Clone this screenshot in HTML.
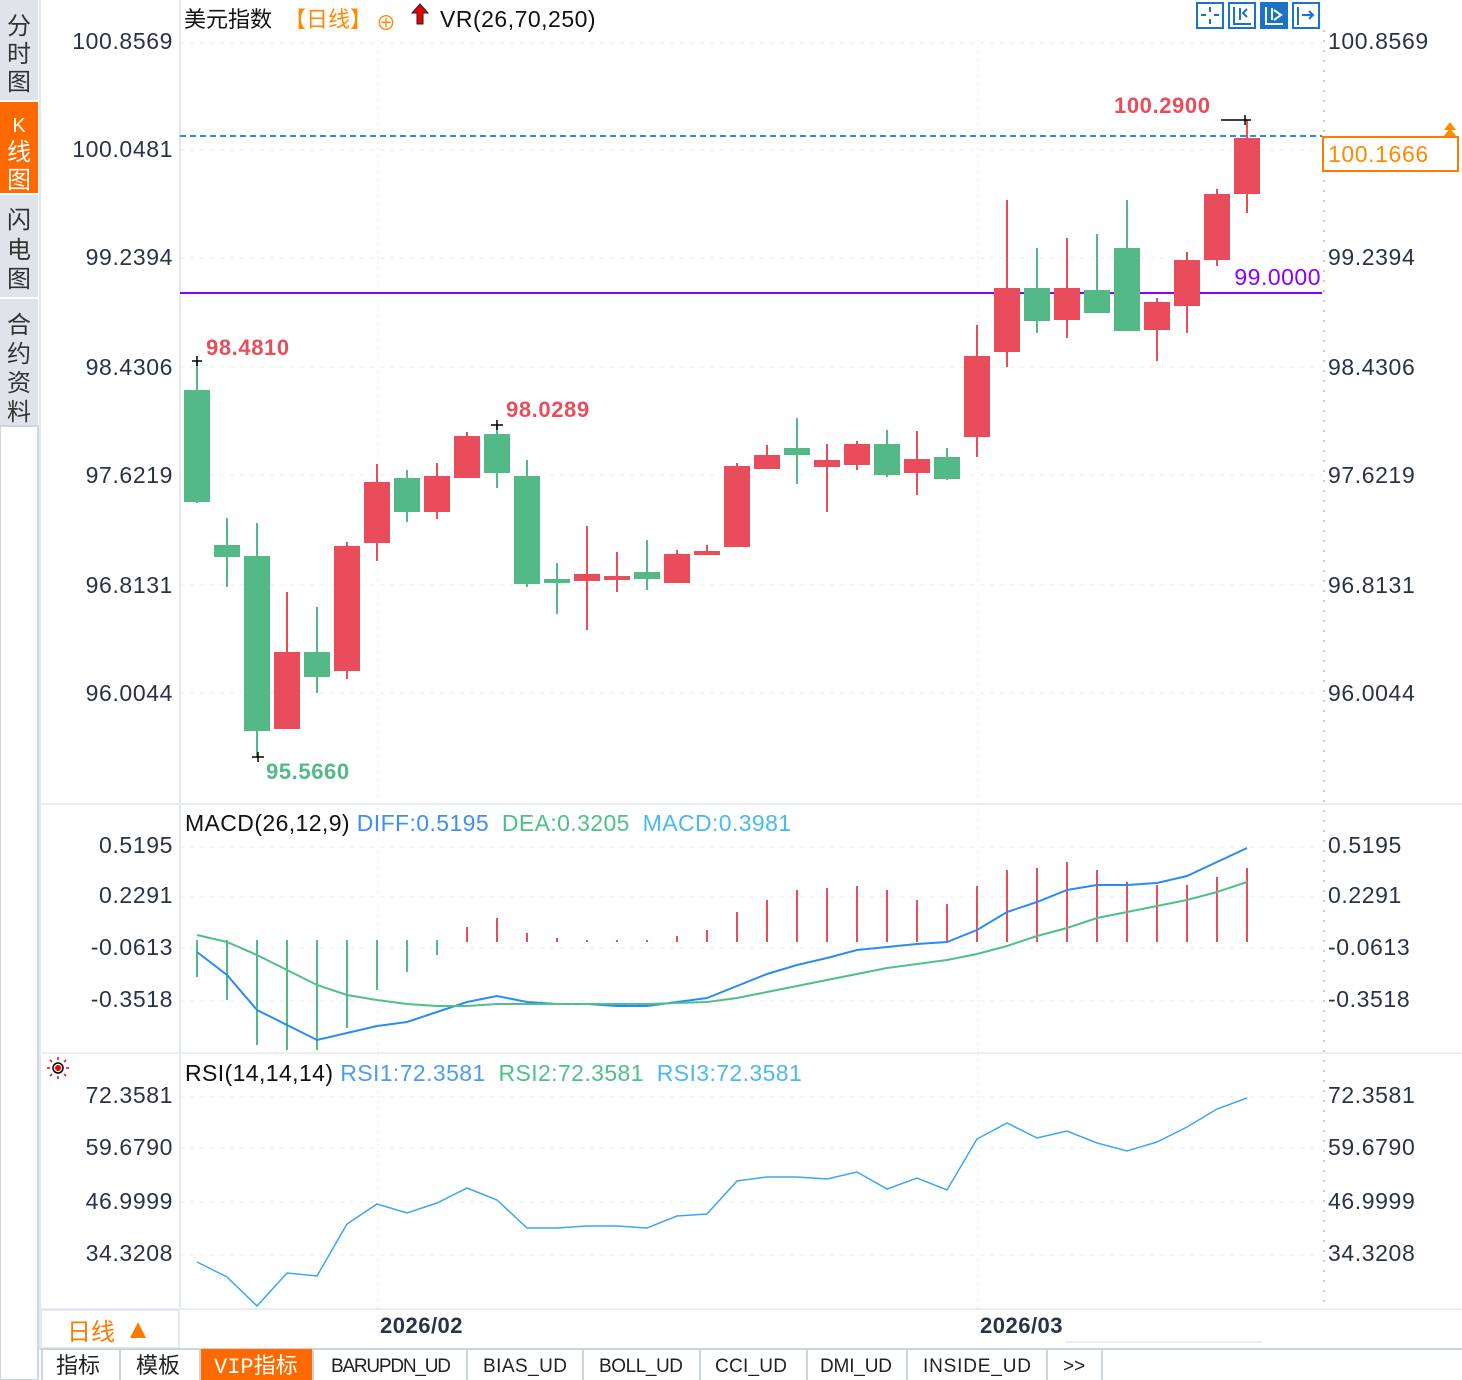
<!DOCTYPE html>
<html><head><meta charset="utf-8"><style>
html,body{margin:0;padding:0;background:#fff;width:1462px;height:1380px;overflow:hidden}
svg{display:block}
text{font-family:"Liberation Sans","Noto Sans CJK SC",sans-serif}
.mono{font-family:"Liberation Mono","Noto Sans CJK SC",monospace}
</style></head><body>
<svg width="1462" height="1380" xmlns="http://www.w3.org/2000/svg">
<rect x="0" y="0" width="38" height="1380" fill="#fff"/>
<rect x="0" y="0" width="38" height="100" fill="#e1e3ea"/>
<rect x="0" y="102" width="38" height="91" fill="#ff6a00"/>
<rect x="0" y="195" width="38" height="102" fill="#e1e3ea"/>
<rect x="0" y="299" width="38" height="127" fill="#e1e3ea"/>
<rect x="0" y="426" width="38" height="954" fill="#fff" stroke="#d0d6df" stroke-width="2"/>
<g font-size="24" fill="#333" text-anchor="middle">
<text x="19" y="34">分</text><text x="19" y="62">时</text><text x="19" y="90">图</text>
<text x="19" y="132" fill="#fff" font-size="20">K</text><text x="19" y="160" fill="#fff">线</text><text x="19" y="188" fill="#fff">图</text>
<text x="19" y="228">闪</text><text x="19" y="258">电</text><text x="19" y="287">图</text>
<text x="19" y="333">合</text><text x="19" y="362">约</text><text x="19" y="391">资</text><text x="19" y="420">料</text>
</g>
<line x1="40" y1="0" x2="40" y2="1350" stroke="#e3e8ee" stroke-width="2"/>
<line x1="180" y1="0" x2="180" y2="1310" stroke="#e3e8ee" stroke-width="2"/>
<line x1="1324" y1="30" x2="1324" y2="1308" stroke="#ccc" stroke-width="2" stroke-dasharray="2,8"/>
<line x1="40" y1="804" x2="1462" y2="804" stroke="#e8edf2" stroke-width="2"/>
<line x1="40" y1="1053" x2="1462" y2="1053" stroke="#e8edf2" stroke-width="2"/>
<line x1="40" y1="1309" x2="1462" y2="1309" stroke="#e8edf2" stroke-width="2"/>
<line x1="378" y1="40" x2="378" y2="1310" stroke="#eaeef2" stroke-dasharray="2,4"/>
<line x1="978" y1="40" x2="978" y2="1310" stroke="#eaeef2" stroke-dasharray="2,4"/>
<g stroke="#eaeef2" stroke-dasharray="4,6">
<line x1="180" y1="43" x2="1322" y2="43"/><line x1="180" y1="150" x2="1322" y2="150"/>
<line x1="180" y1="258" x2="1322" y2="258"/><line x1="180" y1="367" x2="1322" y2="367"/>
<line x1="180" y1="475" x2="1322" y2="475"/><line x1="180" y1="585" x2="1322" y2="585"/>
<line x1="180" y1="693" x2="1322" y2="693"/>
<line x1="180" y1="847" x2="1322" y2="847"/><line x1="180" y1="897" x2="1322" y2="897"/>
<line x1="180" y1="948" x2="1322" y2="948"/><line x1="180" y1="1001" x2="1322" y2="1001"/>
<line x1="180" y1="1097" x2="1322" y2="1097"/><line x1="180" y1="1148" x2="1322" y2="1148"/>
<line x1="180" y1="1202" x2="1322" y2="1202"/><line x1="180" y1="1255" x2="1322" y2="1255"/>
</g>
<g font-size="23" fill="#2a3346" letter-spacing="0.6">
<g text-anchor="end">
<text x="173" y="49">100.8569</text><text x="173" y="157">100.0481</text><text x="173" y="265">99.2394</text>
<text x="173" y="375">98.4306</text><text x="173" y="483">97.6219</text><text x="173" y="593">96.8131</text>
<text x="173" y="701">96.0044</text>
<text x="173" y="853">0.5195</text><text x="173" y="903">0.2291</text><text x="173" y="955">-0.0613</text><text x="173" y="1007">-0.3518</text>
<text x="173" y="1103">72.3581</text><text x="173" y="1155">59.6790</text><text x="173" y="1209">46.9999</text><text x="173" y="1261">34.3208</text>
</g>
<text x="1328" y="49">100.8569</text><text x="1328" y="265">99.2394</text>
<text x="1328" y="375">98.4306</text><text x="1328" y="483">97.6219</text><text x="1328" y="593">96.8131</text>
<text x="1328" y="701">96.0044</text>
<text x="1328" y="853">0.5195</text><text x="1328" y="903">0.2291</text><text x="1328" y="955">-0.0613</text><text x="1328" y="1007">-0.3518</text>
<text x="1328" y="1103">72.3581</text><text x="1328" y="1155">59.6790</text><text x="1328" y="1209">46.9999</text><text x="1328" y="1261">34.3208</text>
</g>
<text x="184" y="27" font-size="22" fill="#111">美元指数</text>
<text x="284" y="27" font-size="22" fill="#ff8a00">【日线】</text>
<text x="376" y="30" font-size="20" fill="#ff8a00">⊕</text>
<path d="M420 4 L428 13 L423 13 L423 24 L417 24 L417 13 L412 13 Z" fill="#e00" stroke="#222" stroke-width="1"/>
<text x="440" y="27" font-size="23" fill="#111" letter-spacing="0.5">VR(26,70,250)</text>
<g stroke="#1a73c9" stroke-width="2" fill="none">
<rect x="1197" y="3" width="26" height="25"/><rect x="1229" y="3" width="26" height="25"/>
<rect x="1261" y="3" width="26" height="25" fill="#1a73c9"/><rect x="1293" y="3" width="26" height="25"/>
<path d="M1210 7v5M1210 19v5M1201 15h5M1214 15h5"/>
<path d="M1234 7v17h17M1240 8v12M1247 9l-4 4 4 4"/>
<path d="M1266 7v17h17M1272 8v12M1274 10l7 5-7 5" stroke="#fff"/>
<path d="M1298 7v18M1302 15h10M1309 11l4 4-4 4"/>
</g>
<line x1="180" y1="136" x2="1322" y2="136" stroke="#2b8cf0" stroke-width="2" stroke-dasharray="6,4"/>
<line x1="180" y1="293" x2="1322" y2="293" stroke="#8a00ff" stroke-width="2"/>
<text x="1321" y="285" font-size="23" fill="#8a00ff" text-anchor="end" letter-spacing="0.5">99.0000</text>
<rect x="1323" y="137" width="135" height="34" fill="#fff" stroke="#ff7a00" stroke-width="2"/>
<text x="1328" y="162" font-size="23" fill="#ff8a00" letter-spacing="0.6">100.1666</text>
<path d="M1444 130 L1450 122 L1456 130 Z M1444 136 L1450 128 L1456 136 Z" fill="#ff8a00"/>
<g stroke-width="2">
<g fill="#52b987" stroke="#52b987">
<line x1="197" y1="360" x2="197" y2="503"/><rect x="184" y="390" width="26" height="112" stroke="none"/>
<line x1="227" y1="518" x2="227" y2="587"/><rect x="214" y="545" width="26" height="12" stroke="none"/>
<line x1="257" y1="523" x2="257" y2="757"/><rect x="244" y="556" width="26" height="175" stroke="none"/>
<line x1="317" y1="607" x2="317" y2="693"/><rect x="304" y="652" width="26" height="25" stroke="none"/>
<line x1="407" y1="470" x2="407" y2="522"/><rect x="394" y="478" width="26" height="34" stroke="none"/>
<line x1="497" y1="425" x2="497" y2="488"/><rect x="484" y="434" width="26" height="39" stroke="none"/>
<line x1="527" y1="460" x2="527" y2="587"/><rect x="514" y="476" width="26" height="108" stroke="none"/>
<line x1="557" y1="563" x2="557" y2="614"/><rect x="544" y="579" width="26" height="4" stroke="none"/>
<line x1="647" y1="540" x2="647" y2="590"/><rect x="634" y="572" width="26" height="7" stroke="none"/>
<line x1="797" y1="418" x2="797" y2="484"/><rect x="784" y="448" width="26" height="7" stroke="none"/>
<line x1="887" y1="430" x2="887" y2="477"/><rect x="874" y="444" width="26" height="31" stroke="none"/>
<line x1="947" y1="448" x2="947" y2="480"/><rect x="934" y="457" width="26" height="22" stroke="none"/>
<line x1="1037" y1="248" x2="1037" y2="333"/><rect x="1024" y="288" width="26" height="33" stroke="none"/>
<line x1="1097" y1="234" x2="1097" y2="313"/><rect x="1084" y="290" width="26" height="23" stroke="none"/>
<line x1="1127" y1="200" x2="1127" y2="331"/><rect x="1114" y="248" width="26" height="83" stroke="none"/>
</g>
<g fill="#e94d5c" stroke="#e94d5c">
<line x1="287" y1="592" x2="287" y2="729"/><rect x="274" y="652" width="26" height="77" stroke="none"/>
<line x1="347" y1="542" x2="347" y2="679"/><rect x="334" y="546" width="26" height="125" stroke="none"/>
<line x1="377" y1="464" x2="377" y2="561"/><rect x="364" y="482" width="26" height="61" stroke="none"/>
<line x1="437" y1="463" x2="437" y2="519"/><rect x="424" y="476" width="26" height="36" stroke="none"/>
<line x1="467" y1="432" x2="467" y2="478"/><rect x="454" y="436" width="26" height="42" stroke="none"/>
<line x1="587" y1="526" x2="587" y2="630"/><rect x="574" y="574" width="26" height="7" stroke="none"/>
<line x1="617" y1="552" x2="617" y2="592"/><rect x="604" y="576" width="26" height="4" stroke="none"/>
<line x1="677" y1="550" x2="677" y2="583"/><rect x="664" y="554" width="26" height="29" stroke="none"/>
<line x1="707" y1="545" x2="707" y2="555"/><rect x="694" y="551" width="26" height="4" stroke="none"/>
<line x1="737" y1="463" x2="737" y2="547"/><rect x="724" y="466" width="26" height="81" stroke="none"/>
<line x1="767" y1="445" x2="767" y2="469"/><rect x="754" y="455" width="26" height="14" stroke="none"/>
<line x1="827" y1="444" x2="827" y2="512"/><rect x="814" y="460" width="26" height="7" stroke="none"/>
<line x1="857" y1="441" x2="857" y2="470"/><rect x="844" y="444" width="26" height="21" stroke="none"/>
<line x1="917" y1="431" x2="917" y2="495"/><rect x="904" y="459" width="26" height="14" stroke="none"/>
<line x1="977" y1="325" x2="977" y2="457"/><rect x="964" y="356" width="26" height="81" stroke="none"/>
<line x1="1007" y1="200" x2="1007" y2="367"/><rect x="994" y="288" width="26" height="64" stroke="none"/>
<line x1="1067" y1="238" x2="1067" y2="338"/><rect x="1054" y="288" width="26" height="32" stroke="none"/>
<line x1="1157" y1="298" x2="1157" y2="361"/><rect x="1144" y="302" width="26" height="28" stroke="none"/>
<line x1="1187" y1="252" x2="1187" y2="333"/><rect x="1174" y="260" width="26" height="46" stroke="none"/>
<line x1="1217" y1="189" x2="1217" y2="266"/><rect x="1204" y="194" width="26" height="66" stroke="none"/>
<line x1="1247" y1="120" x2="1247" y2="213"/><rect x="1234" y="138" width="26" height="56" stroke="none"/>
</g>
</g>
<g stroke="#000" stroke-width="1.5">
<path d="M192 361h10M197 356v10M252 757h12M258 752v10M491 425h12M497 420v10M1221 120h30M1245 115v10"/>
</g>
<g font-size="22" font-weight="bold" letter-spacing="0.6">
<text x="206" y="355" fill="#e94d5c">98.4810</text>
<text x="506" y="417" fill="#e94d5c">98.0289</text>
<text x="266" y="779" fill="#52b987">95.5660</text>
<text x="1114" y="113" fill="#e94d5c">100.2900</text>
</g>
<text x="185" y="831" font-size="23" letter-spacing="0.4"><tspan fill="#111">MACD(26,12,9) </tspan><tspan fill="#3d8ff0">DIFF:0.5195 </tspan><tspan fill="#4ec08a" dx="6">DEA:0.3205 </tspan><tspan fill="#4ab9f0" dx="6">MACD:0.3981</tspan></text>
<g stroke="#52b987" stroke-width="2">
<path d="M197 940V977M227 940V1000M257 940V1045M287 940V1050M317 940V1050M347 940V1028M377 940V990M407 940V972M437 940V955"/>
</g>
<g stroke="#e94d5c" stroke-width="2">
<path d="M467 942V927M497 942V918M527 942V933M557 942V938M587 942V940M617 942V940M647 942V940M677 942V936M707 942V930M737 942V912M767 942V900M797 942V890M827 942V888M857 942V886M887 942V890M917 942V900M947 942V904M977 942V886M1007 942V870M1037 942V868M1067 942V862M1097 942V870M1127 942V882M1157 942V885M1187 942V885M1217 942V877M1247 942V868"/>
</g>
<polyline fill="none" stroke="#2b8cf0" stroke-width="2" points="197,952 227,975 257,1010 287,1025 317,1040 347,1033 377,1026 407,1022 437,1012 467,1002 497,996 527,1002 557,1004 587,1004 617,1006 647,1006 677,1002 707,998 737,986 767,974 797,965 827,958 857,950 887,947 917,944 947,942 977,930 1007,912 1037,902 1067,890 1097,885 1127,885 1157,883 1187,876 1217,862 1247,848"/>
<polyline fill="none" stroke="#4ec08a" stroke-width="2" points="197,935 227,942 257,955 287,970 317,985 347,995 377,1000 407,1004 437,1006 467,1006 497,1004 527,1004 557,1004 587,1004 617,1004 647,1004 677,1003 707,1002 737,998 767,992 797,986 827,980 857,974 887,968 917,964 947,960 977,954 1007,946 1037,936 1067,928 1097,918 1127,912 1157,906 1187,900 1217,892 1247,882"/>
<circle cx="58" cy="1068" r="5" fill="none" stroke="#000" stroke-width="1.5"/><circle cx="58" cy="1068" r="3" fill="#e00"/>
<g stroke="#e00" stroke-width="1.5"><path d="M58 1057v3M58 1076v3M47 1068h3M66 1068h3M50 1060l2 2M64 1074l2 2M66 1060l-2 2M50 1076l2-2"/></g>
<text x="185" y="1081" font-size="23" letter-spacing="0.4"><tspan fill="#111">RSI(14,14,14) </tspan><tspan fill="#4a9df0">RSI1:72.3581 </tspan><tspan fill="#4ec08a" dx="6">RSI2:72.3581 </tspan><tspan fill="#4ab9f0" dx="6">RSI3:72.3581</tspan></text>
<polyline fill="none" stroke="#3aa8ee" stroke-width="1.5" points="197,1262 227,1277 257,1306 287,1273 317,1276 347,1224 377,1204 407,1213 437,1203 467,1188 497,1200 527,1228 557,1228 587,1226 617,1226 647,1228 677,1216 707,1214 737,1181 767,1177 797,1177 827,1179 857,1172 887,1189 917,1178 947,1190 977,1139 1007,1123 1037,1138 1067,1131 1097,1143 1127,1151 1157,1142 1187,1127 1217,1109 1247,1098"/>
<rect x="41" y="1310" width="138" height="38" fill="#fff" stroke="#e3e8ee" stroke-width="2"/>
<text x="67" y="1340" font-size="24" fill="#ff7a00">日线</text>
<path d="M130 1338 L138 1322 L146 1338Z" fill="#ff7a00"/>
<text x="380" y="1333" font-size="22" font-weight="bold" fill="#2a3346" letter-spacing="0.5">2026/02</text>
<text x="980" y="1333" font-size="22" font-weight="bold" fill="#2a3346" letter-spacing="0.5">2026/03</text>
<line x1="1065" y1="1342" x2="1262" y2="1342" stroke="#e8edf2" stroke-width="2"/>
<rect x="40" y="1349" width="1422" height="31" fill="#fff"/>
<line x1="40" y1="1349" x2="1462" y2="1349" stroke="#ccd4dd" stroke-width="2"/>
<rect x="200" y="1349" width="113" height="31" fill="#ff6a00"/>
<g stroke="#ccd4dd" stroke-width="2"><path d="M42 1349v31M120 1349v31M200 1349v31M313 1349v31M467 1349v31M583 1349v31M700 1349v31M807 1349v31M907 1349v31M1047 1349v31M1102 1349v31"/></g>
<g font-size="22" fill="#222">
<text x="56" y="1373">指标</text><text x="136" y="1373">模板</text>
<text x="214" y="1373" fill="#fff" class="mono">VIP指标</text>
<g class="mono" font-size="19">
<text x="331" y="1372" textLength="120">BARUPDN_UD</text>
<text x="483" y="1372" textLength="84">BIAS_UD</text>
<text x="599" y="1372" textLength="84">BOLL_UD</text>
<text x="715" y="1372" textLength="72">CCI_UD</text>
<text x="820" y="1372" textLength="72">DMI_UD</text>
<text x="923" y="1372" textLength="108">INSIDE_UD</text>
<text x="1063" y="1372">&gt;&gt;</text>
</g>
</g>
</svg>
</body></html>
